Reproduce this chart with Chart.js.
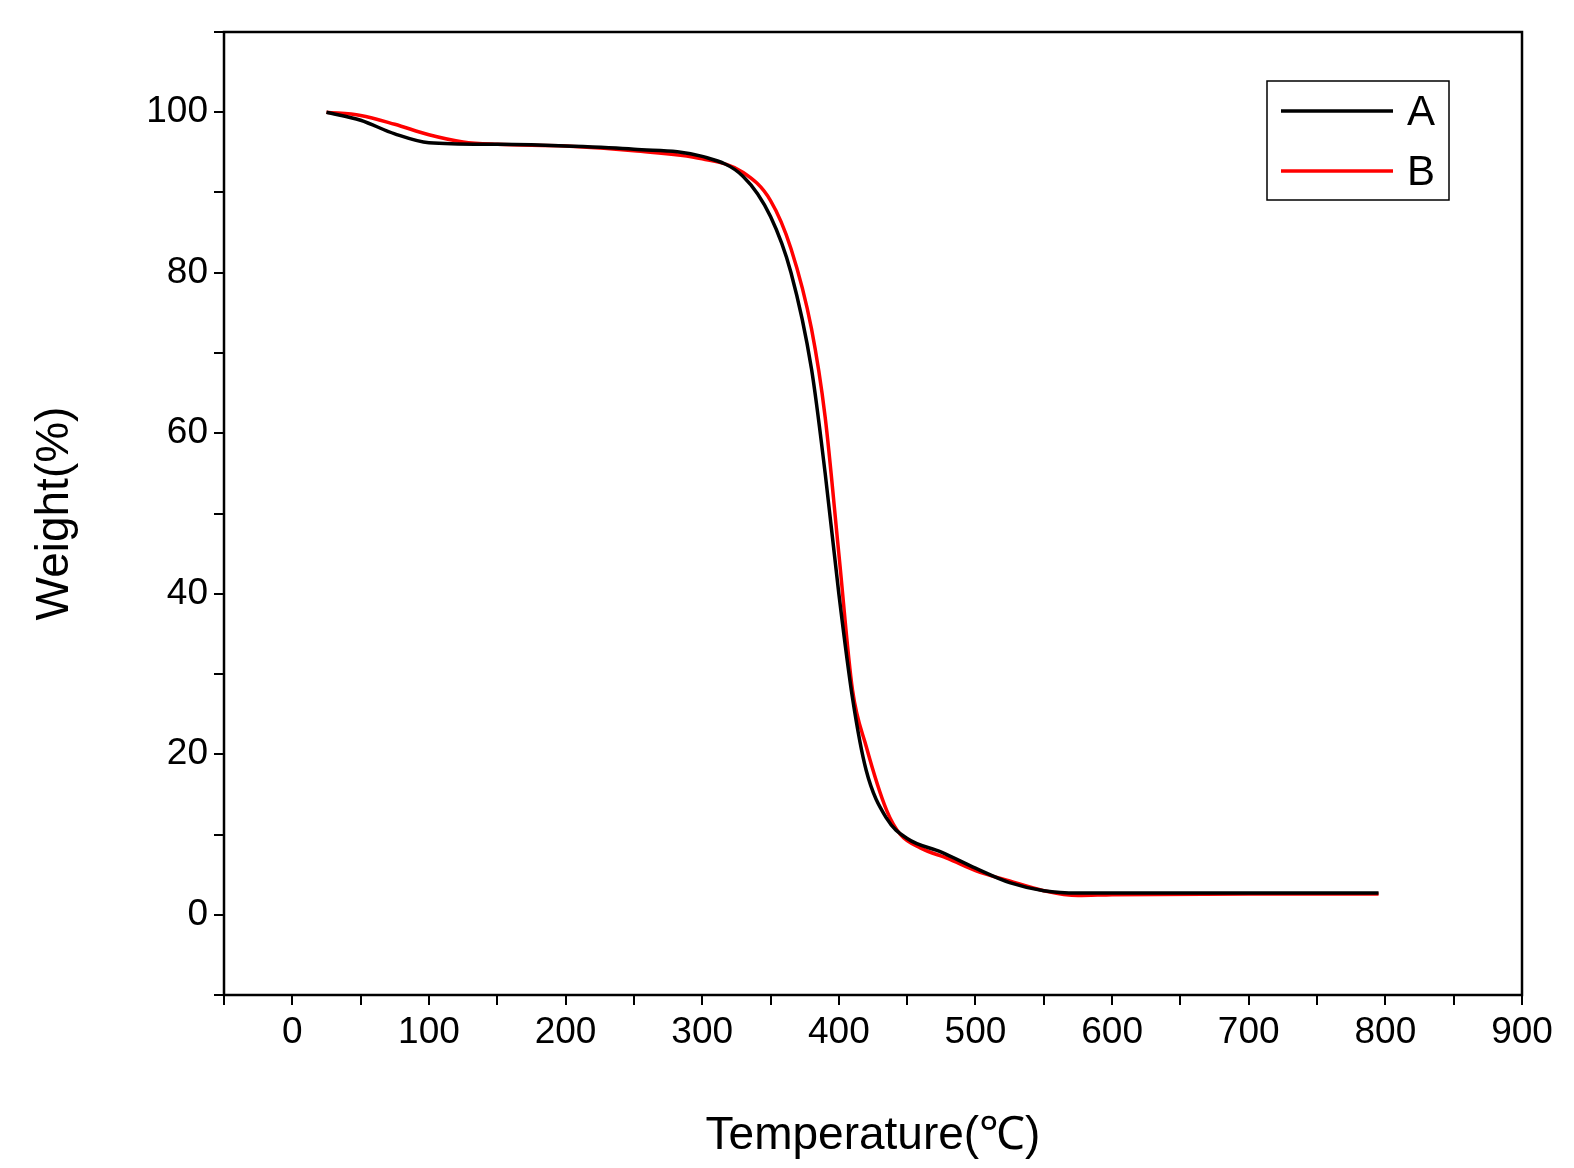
<!DOCTYPE html>
<html><head><meta charset="utf-8">
<script src="https://cdn.jsdelivr.net/npm/chart.js@4"></script>
<style>html,body{margin:0;padding:0;background:#fff}#w{width:1574px;height:1168px}</style>
</head><body><div id="w"><canvas id="c"></canvas></div>
<script>
const tempA=[25,50,75,100,150,200,250,300,330,350,365,380,390,400,410,420,435,450,475,500,525,550,575,600,700,795];
const weightA=[100,99,97.3,96.2,96,95.8,95.4,94.5,92,87,80,68,55,40,27,18,12,9.5,7.8,5.8,4,3,2.7,2.7,2.7,2.7];
const tempB=[25,50,75,100,125,150,200,250,300,330,350,365,380,390,400,410,420,435,445,460,480,500,525,550,575,600,700,795];
const weightB=[100,99.6,98.5,97.2,96.3,96,95.8,95.2,94.2,92.5,89,83,73,62,45,28,21,13,10,8.3,7,5.5,4.2,3,2.4,2.5,2.6,2.6];
const seriesNames=['A','B'];
const pts=(x,y)=>x.map((v,i)=>({x:v,y:y[i]}));
const frame={id:'frame',afterDraw(ch){const a=ch.chartArea,c=ch.ctx;c.save();c.strokeStyle='#000';c.lineWidth=2.5;c.strokeRect(a.left,a.top,a.right-a.left,a.bottom-a.top);
 const lx=1267,ly=81,w=182,h=119;c.lineWidth=1.5;c.strokeRect(lx,ly,w,h);
 const cols=['#000','#ff0000'];c.font='42px "Liberation Sans", Arial';c.textBaseline='middle';
 seriesNames.forEach((n,i)=>{const y=ly+30+i*60;c.strokeStyle=cols[i];c.lineWidth=3.5;c.beginPath();c.moveTo(lx+14,y);c.lineTo(lx+126,y);c.stroke();c.fillStyle='#000';c.fillText(n,lx+140,y+2);});
 c.restore();}};
new Chart(document.getElementById('c'),{type:'line',
data:{datasets:[
{label:'A',data:pts(tempA,weightA),borderColor:'#000',borderWidth:3.5,pointRadius:0,tension:0.4,cubicInterpolationMode:'monotone'},
{label:'B',data:pts(tempB,weightB),borderColor:'#ff0000',borderWidth:3.5,pointRadius:0,tension:0.4,cubicInterpolationMode:'monotone'}]},
options:{responsive:true,maintainAspectRatio:false,animation:false,
layout:{padding:{left:0,top:32,right:52,bottom:0}},
plugins:{legend:{display:false},tooltip:{enabled:false}},
scales:{
x:{type:'linear',min:-50,max:900,afterFit(s){s.height=173;},
 ticks:{stepSize:50,autoSkip:false,maxRotation:0,color:'#000',font:{size:37,family:'"Liberation Sans", Arial'},padding:6,callback:v=>v%100===0?v:''},
 grid:{drawOnChartArea:false,drawTicks:true,tickLength:10,color:'#000',lineWidth:2},border:{display:false},
 title:{display:true,text:'Temperature(℃)',color:'#000',font:{size:46,family:'"Liberation Sans", Arial'},padding:{top:0}}},
y:{min:-10,max:110,afterFit(s){s.width=224;},
 ticks:{stepSize:10,autoSkip:false,color:'#000',font:{size:37,family:'"Liberation Sans", Arial'},padding:6,callback:v=>(v>=0&&v<=100&&v%20===0)?v:''},
 grid:{drawOnChartArea:false,drawTicks:true,tickLength:10,color:'#000',lineWidth:2},border:{display:false},
 title:{display:true,text:'Weight(%)',color:'#000',font:{size:46,family:'"Liberation Sans", Arial'},padding:{top:28,bottom:0}}}}},
plugins:[frame]});
</script></body></html>
